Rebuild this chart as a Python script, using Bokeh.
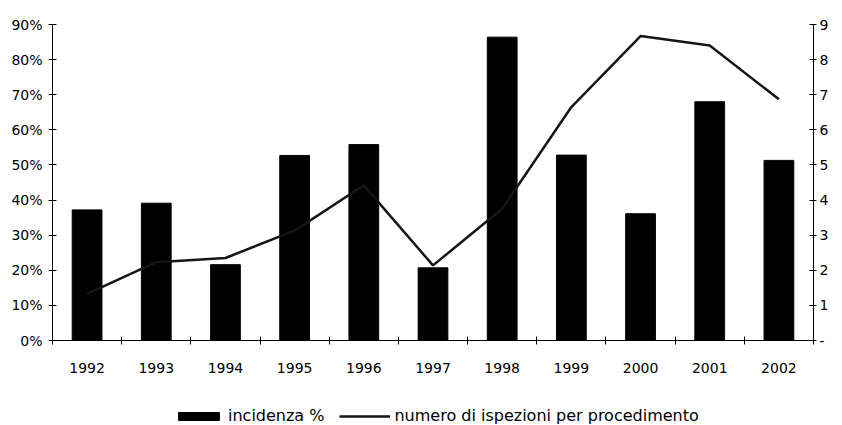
from bokeh.plotting import figure
from bokeh.layouts import column
from bokeh.models import Range1d, LinearAxis, FixedTicker, NumeralTickFormatter, Legend, LegendItem
from bokeh.embed import file_html
from bokeh.resources import INLINE

years = [1992, 1993, 1994, 1995, 1996, 1997, 1998, 1999, 2000, 2001, 2002]
incidenza = [0.372, 0.391, 0.216, 0.527, 0.558, 0.207, 0.864, 0.528, 0.361, 0.680, 0.513]
ispezioni = [1.33, 2.23, 2.35, 3.13, 4.42, 2.14, 3.75, 6.65, 8.67, 8.40, 6.87]
left_ticks = [0.0, 0.1, 0.2, 0.3, 0.4, 0.5, 0.6, 0.7, 0.8, 0.9]
right_ticks = [0, 1, 2, 3, 4, 5, 6, 7, 8, 9]
right_labels = {0: "-", 1: "1", 2: "2", 3: "3", 4: "4", 5: "5", 6: "6", 7: "7", 8: "8", 9: "9"}
series_labels = ["incidenza %", "numero di ispezioni per procedimento"]

FONT = "DejaVu Sans"

p = figure(frame_width=761, frame_height=316,
           x_range=Range1d(years[0] - 0.5, years[-1] + 0.5),
           y_range=Range1d(0, 0.9),
           output_backend="svg", toolbar_location=None,
           min_border_left=52, min_border_right=29, min_border_top=24, min_border_bottom=45)
p.extra_y_ranges = {"right": Range1d(0, 9)}
p.xgrid.visible = False
p.ygrid.visible = False
p.outline_line_color = None
p.background_fill_color = "white"
p.border_fill_color = "white"

bars = p.vbar(x=years, top=incidenza, width=0.43, fill_color="black", line_color="black")
line = p.line(x=years, y=ispezioni, y_range_name="right", line_color="#151515", line_width=2.5)

# x axis
xa = p.xaxis[0]
xa.ticker = FixedTicker(ticks=years, minor_ticks=[y - 0.5 for y in years] + [years[-1] + 0.5])
xa.formatter = NumeralTickFormatter(format="0")
xa.major_tick_line_color = None
xa.major_tick_in = 0
xa.major_tick_out = 0
xa.minor_tick_in = 4
xa.minor_tick_out = 4
xa.minor_tick_line_color = "black"
xa.major_label_standoff = 18
xa.axis_line_color = "black"
xa.major_label_text_font = FONT
xa.major_label_text_font_size = "14px"
xa.major_label_text_color = "black"

# left axis
ya = p.yaxis[0]
ya.ticker = FixedTicker(ticks=left_ticks, minor_ticks=[])
ya.formatter = NumeralTickFormatter(format="0%")
ya.major_tick_in = 4
ya.major_tick_out = 4
ya.major_label_standoff = 6
ya.minor_tick_line_color = None
ya.axis_line_color = "black"
ya.major_tick_line_color = "black"
ya.major_label_text_font = FONT
ya.major_label_text_font_size = "14px"
ya.major_label_text_color = "black"

# right axis
ra = LinearAxis(y_range_name="right", ticker=FixedTicker(ticks=right_ticks, minor_ticks=[]),
                major_label_overrides=right_labels)
ra.major_tick_in = 4
ra.major_tick_out = 3
ra.major_label_standoff = 3
ra.minor_tick_line_color = None
ra.axis_line_color = "black"
ra.major_tick_line_color = "black"
ra.major_label_text_font = FONT
ra.major_label_text_font_size = "14px"
ra.major_label_text_color = "black"
p.add_layout(ra, "right")

# legend strip below the chart (its proxy glyphs lie fully outside its visible range)
lf = figure(width=842, height=40, x_range=Range1d(0, 1), y_range=Range1d(10, 11),
            output_backend="svg", toolbar_location=None,
            x_axis_type=None, y_axis_type=None,
            min_border_left=0, min_border_right=0, min_border_top=0, min_border_bottom=0)
lf.xgrid.visible = False
lf.ygrid.visible = False
lf.outline_line_color = None
lf.border_fill_color = "white"
lf.background_fill_color = "white"
lb = lf.vbar(x=years[:1], top=incidenza[:1], width=0.43, fill_color="black", line_color="black")
ll = lf.line(x=years[:2], y=ispezioni[:2], line_color="#151515", line_width=2.5)

legend = Legend(items=[LegendItem(label=series_labels[0], renderers=[lb]),
                       LegendItem(label=series_labels[1], renderers=[ll])],
                location=(121, 0), orientation="horizontal",
                glyph_width=51, glyph_height=10, label_standoff=4, spacing=15,
                padding=0, margin=0, border_line_color=None, background_fill_alpha=0,
                label_text_font=FONT, label_text_font_size="16px", label_height=10,
                label_text_color="black")
lf.add_layout(legend)

open("out.html", "w").write(file_html(column(p, lf), INLINE))
